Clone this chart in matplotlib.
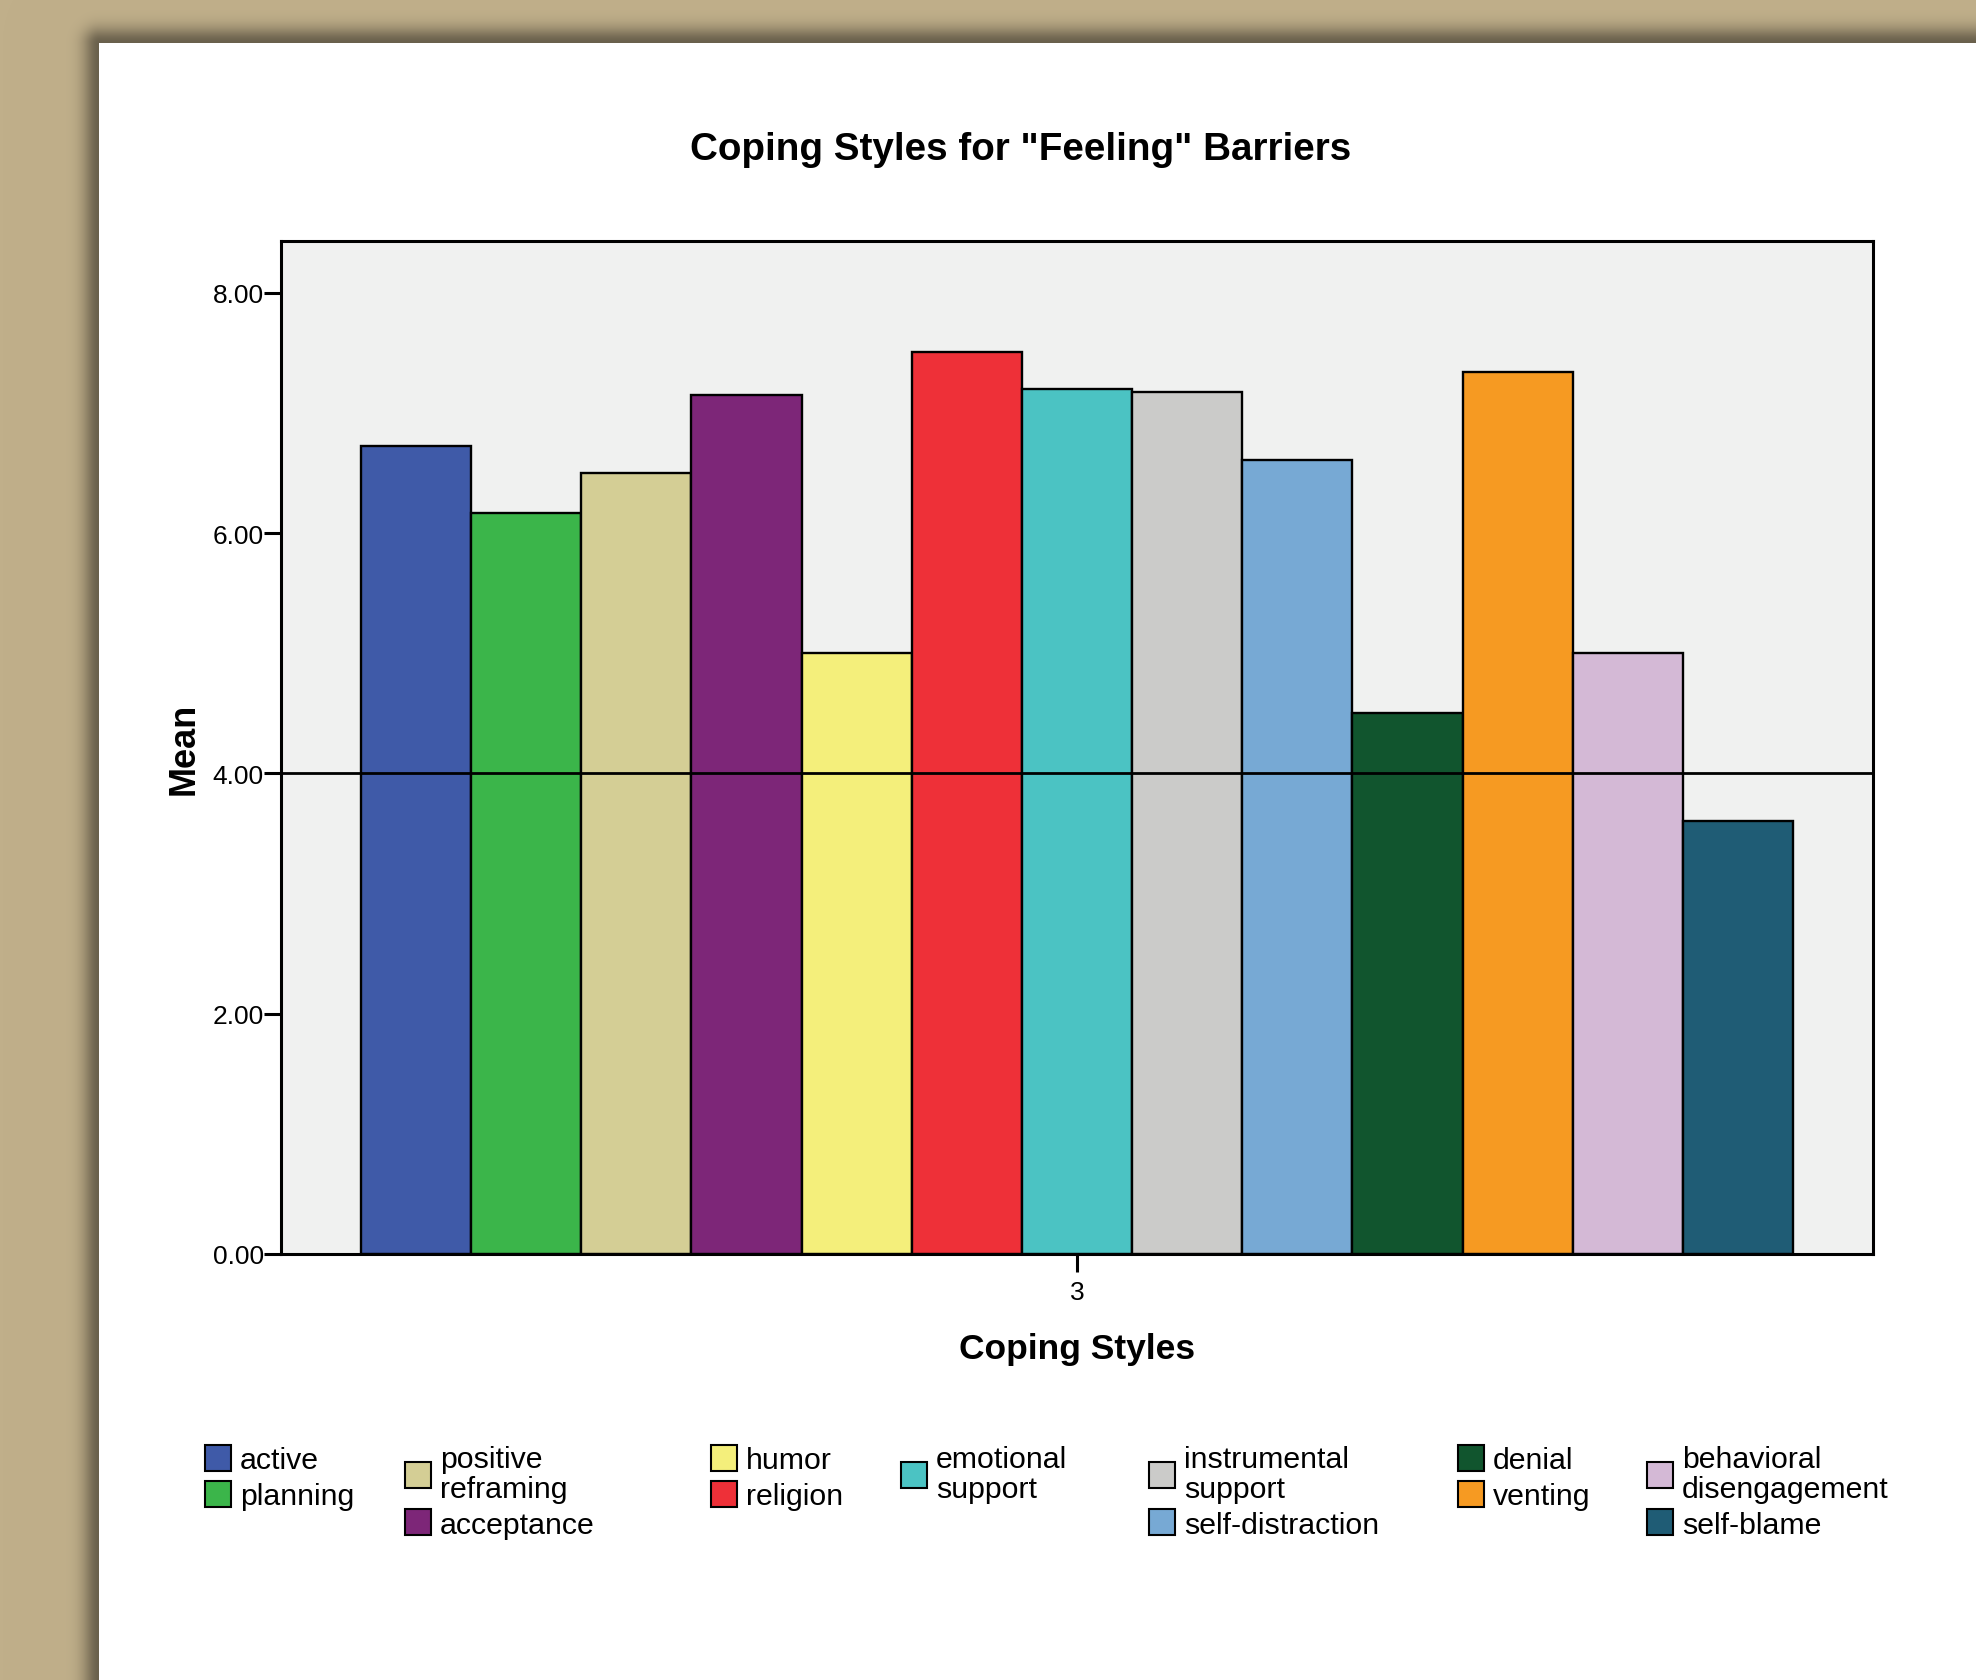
import numpy as np
import matplotlib
matplotlib.use("Agg")
import matplotlib.pyplot as plt
from matplotlib.patches import Patch

# ---- data ----
styles = ["active", "planning", "positive\nreframing", "acceptance", "humor",
          "religion", "emotional\nsupport", "instrumental\nsupport",
          "self-distraction", "denial", "venting", "behavioral\ndisengagement",
          "self-blame"]
means = [6.72, 6.17, 6.50, 7.15, 5.00, 7.51, 7.20, 7.17, 6.61, 4.50, 7.34, 5.00, 3.60]
colors = ["#3F5AA8", "#3BB54A", "#D4CE95", "#7D2678", "#F4EF7B", "#EE3038",
          "#4BC3C3", "#CBCBC9", "#77A9D4", "#11552E", "#F69A22", "#D4B9D6",
          "#1F5C75"]
group_label = "3"
yticks = [0, 2, 4, 6, 8]
ref_value = 4.0

# legend columns (indices into styles), laid out like the SPSS legend
legend_cols = [[0, 1], [2, 3], [4, 5], [6], [7, 8], [9, 10], [11, 12]]

plt.rcParams['font.family'] = ['Liberation Sans', 'DejaVu Sans']

W, H = 1976, 1681
fig = plt.figure(figsize=(W / 100, H / 100), dpi=100)

# tan backdrop with a soft shadow behind the white page
page_x, page_y = 99, 44
yy, xx = np.mgrid[0:H, 0:W]
d = np.hypot(np.clip(page_x - xx, 0, None), np.clip(page_y - yy, 0, None))
shade = 1 - 0.45 * np.exp(-(d / 16.0) ** 2)
bg = np.array([192, 175, 138]) / 255.0 * shade[..., None]
bg[(xx >= page_x) & (yy >= page_y)] = 1.0
fig.figimage(bg, xo=0, yo=0, origin='upper', zorder=-10)

# axes box in pixels
ax_l, ax_r, ax_t, ax_b = 281, 1873, 242, 1255
ax = fig.add_axes([ax_l / W, 1 - ax_b / H, (ax_r - ax_l) / W, (ax_b - ax_t) / H])
ax.set_zorder(1)
ax.set_facecolor("#F0F1F0")

x = np.arange(len(means))
ax.bar(x, means, width=1.0, color=colors, edgecolor="black", linewidth=1.7, zorder=2)
ax.axhline(ref_value, color="black", linewidth=2.0, zorder=3)

pad = 0.726
ax.set_xlim(-0.5 - pad, len(means) - 0.5 + pad)
ax.set_ylim(0, 8.43)

for s in ax.spines.values():
    s.set_linewidth(2.2)
    s.set_color("black")
    s.set_zorder(4)

ax.set_yticks(yticks)
ax.set_yticklabels([f"{v:.2f}" for v in yticks])
ax.set_xticks([(len(means) - 1) / 2])
ax.set_xticklabels([group_label])
ax.tick_params(axis='y', length=12, width=2.2, pad=0.5, labelsize=19)
ax.tick_params(axis='x', length=13, width=2.2, pad=6, labelsize=19)

ax.set_xlabel("Coping Styles", fontsize=25.5, fontweight="bold")
ax.xaxis.set_label_coords(0.5, (ax_b - 1350) / (ax_b - ax_t))
ax.xaxis.label.set_va("center")
ax.set_ylabel("Mean", fontsize=26, fontweight="bold")
ax.yaxis.set_label_coords((184 - ax_l) / (ax_r - ax_l), 0.5)
ax.yaxis.label.set_va("center")

fig.text(1021 / W, 1 - 150 / H, 'Coping Styles for "Feeling" Barriers',
         ha="center", va="center", fontsize=27.8, fontweight="bold")

# legend, one block per column
col_x = [205, 405, 711, 901, 1149, 1458, 1647]
leg_top = 1446
fs = 21.8
for cols, cx in zip(legend_cols, col_x):
    handles = [Patch(facecolor=colors[i], edgecolor="black", linewidth=1.5) for i in cols]
    labels = [styles[i] for i in cols]
    leg = fig.legend(handles, labels, loc="upper left",
                     bbox_to_anchor=(cx / W, 1 - leg_top / H),
                     frameon=False, borderpad=0, borderaxespad=0,
                     fontsize=fs, handlelength=0.85, handleheight=0.95,
                     handletextpad=0.3, labelspacing=0.2)
    for t in leg.get_texts():
        t.set_linespacing(1.1)

fig.savefig("out.png", dpi=100)
